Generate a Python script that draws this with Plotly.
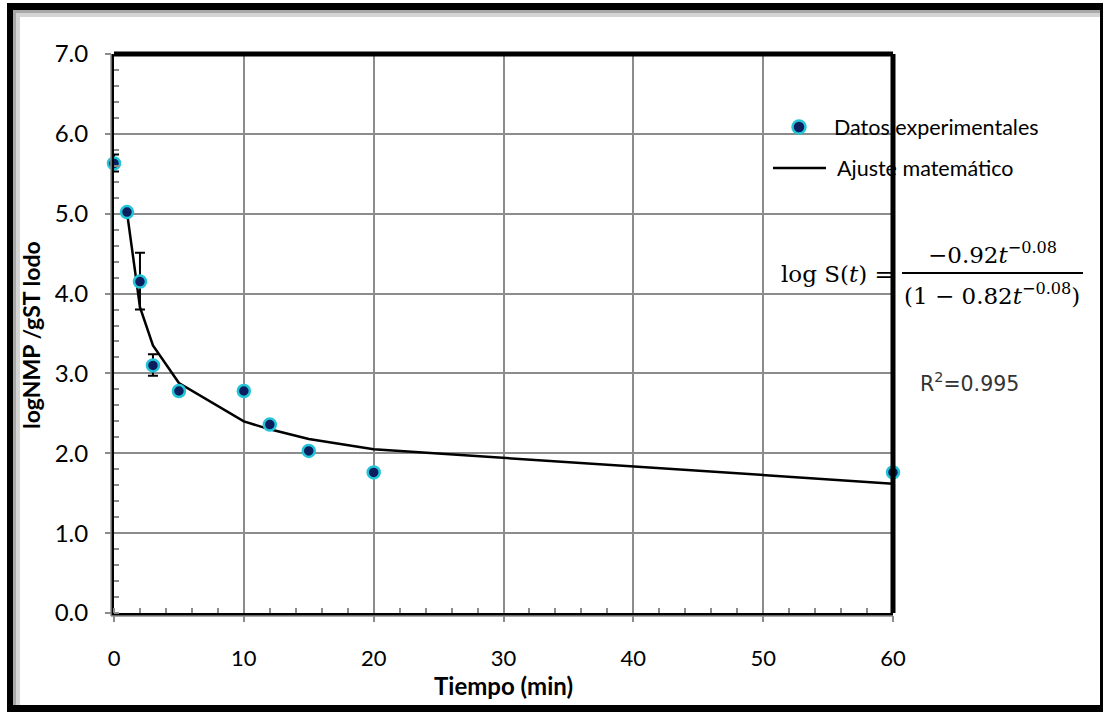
import plotly.graph_objects as go

# ---- data ----
t_exp = [0, 1, 2, 3, 5, 10, 12, 15, 20, 60]
log_exp = [5.63, 5.02, 4.15, 3.10, 2.78, 2.78, 2.36, 2.03, 1.76, 1.76]
err_plus = [0.11, 0, 0.36, 0.14, 0, 0, 0, 0, 0, 0]
err_minus = [0.10, 0, 0.35, 0.13, 0, 0, 0, 0, 0, 0]

t_fit = [1, 2, 3, 5, 10, 12, 15, 20, 60]
log_fit = [5.02, 3.83, 3.35, 2.88, 2.40, 2.30, 2.18, 2.05, 1.62]

x_ticks = [0, 10, 20, 30, 40, 50, 60]
y_ticks = [0, 1, 2, 3, 4, 5, 6, 7]
y_tick_labels = ["0.0", "1.0", "2.0", "3.0", "4.0", "5.0", "6.0", "7.0"]

# ---- layout geometry (px) ----
W, H = 1105, 712
L, R, T, B = 114, 893, 54, 613


def px(x):
    return (x - L) / (R - L)


def py(y):
    return (B - y) / (B - T)


NAVY = "#0b1f5e"
CYAN = "#22c5d8"
SANS = "Lato, 'Open Sans', sans-serif"

fig = go.Figure()

fig.add_trace(go.Scatter(
    x=t_fit, y=log_fit, mode="lines", name="Ajuste matemático",
    line=dict(color="black", width=2.5), showlegend=False, cliponaxis=False,
))
fig.add_trace(go.Scatter(
    x=t_exp, y=log_exp, mode="markers", name="Datos experimentales",
    marker=dict(color=NAVY, size=12, line=dict(color=CYAN, width=2.5)),
    error_y=dict(type="data", symmetric=False, array=err_plus, arrayminus=err_minus,
                 color="black", thickness=2, width=5),
    showlegend=False, cliponaxis=False,
))

shapes = []
# outer frame (shadow + black border)
for (x0, y0, x1, y1, c) in [
    (13, 10, 20, 705, "#d4d4d4"), (13, 10, 1100, 17, "#d4d4d4"),
    (13, 10, 16, 705, "#a8a8a8"), (13, 10, 1100, 13, "#a8a8a8"),
    (7, 3, 13, 712, "black"), (7, 3, 1103, 10, "black"),
    (1100, 3, 1103, 712, "black"), (7, 705, 1103, 712, "black"),
]:
    shapes.append(dict(type="rect", xref="paper", yref="paper",
                       x0=px(x0), x1=px(x1), y0=py(y0), y1=py(y1),
                       fillcolor=c, line=dict(width=0), layer="below"))
# grey outer companion lines of left and bottom axes
shapes.append(dict(type="line", xref="paper", yref="paper", x0=px(L - 3), x1=px(L - 3),
                   y0=py(B + 3), y1=py(T), line=dict(color="#8c8c8c", width=1.5)))
shapes.append(dict(type="line", xref="paper", yref="paper", x0=px(L - 3), x1=px(R),
                   y0=py(B + 3), y1=py(B + 3), line=dict(color="#8c8c8c", width=1.5)))
# thick top/right border
shapes.append(dict(type="line", xref="paper", yref="paper", x0=px(L), x1=px(R),
                   y0=1, y1=1, line=dict(color="black", width=5)))
shapes.append(dict(type="line", xref="paper", yref="paper", x0=1, x1=1,
                   y0=0, y1=1, line=dict(color="black", width=5)))
# legend glyphs
shapes.append(dict(type="circle", xref="paper", yref="paper",
                   x0=px(799 - 6.5), x1=px(799 + 6.5), y0=py(127 + 6.5), y1=py(127 - 6.5),
                   fillcolor=NAVY, line=dict(color=CYAN, width=2.5)))
shapes.append(dict(type="line", xref="paper", yref="paper", x0=px(773), x1=px(826),
                   y0=py(168), y1=py(168), line=dict(color="black", width=2.5)))
# fraction bar
shapes.append(dict(type="line", xref="paper", yref="paper", x0=px(902), x1=px(1083),
                   y0=py(273), y1=py(273), line=dict(color="black", width=2)))

annotations = [
    dict(text="<b>logNMP /gST lodo</b>", x=px(31), y=py(335), xanchor="center", yanchor="middle",
         textangle=-90, font=dict(family=SANS, size=23, color="black")),
    dict(text="Datos experimentales", x=px(832), y=py(127), xanchor="left", yanchor="middle",
         font=dict(family=SANS, size=21.5, color="black")),
    dict(text="Ajuste matemático", x=px(835), y=py(168), xanchor="left", yanchor="middle",
         font=dict(family=SANS, size=21.5, color="black")),
    dict(text="log S(<i>t</i>) =", x=px(779), y=py(274), xanchor="left", yanchor="middle",
         font=dict(family="DejaVu Serif", size=23, color="black")),
    dict(text="−0.92<i>t</i><sup>−0.08</sup>", x=px(992), y=py(253), xanchor="center",
         yanchor="middle", font=dict(family="DejaVu Serif", size=23, color="black")),
    dict(text="(1 − 0.82<i>t</i><sup>−0.08</sup>)", x=px(992), y=py(294), xanchor="center",
         yanchor="middle", font=dict(family="DejaVu Serif", size=23, color="black")),
    dict(text="R<sup>2</sup>=0.995", x=px(918), y=py(382), xanchor="left", yanchor="middle",
         font=dict(family="DejaVu Sans", size=20.5, color="#333333")),
]
for a in annotations:
    a.update(xref="paper", yref="paper", showarrow=False)

fig.update_layout(
    width=W, height=H,
    margin=dict(l=L, r=W - R, t=T, b=H - B, pad=0),
    paper_bgcolor="white", plot_bgcolor="white",
    shapes=shapes, annotations=annotations, showlegend=False,
    font=dict(family=SANS, size=16, color="black"),
)
fig.update_xaxes(
    range=[0, 60], tickvals=x_ticks, ticktext=[str(v) for v in x_ticks],
    showgrid=True, gridcolor="#8c8c8c", gridwidth=1.5,
    showline=True, linecolor="black", linewidth=3, mirror=False,
    ticks="outside", ticklen=6, tickcolor="#8c8c8c", tickwidth=1.5,
    ticklabelstandoff=18,
    minor=dict(dtick=2, ticks="inside", ticklen=5, tickcolor="#8c8c8c", tickwidth=1.5, showgrid=False),
    tickfont=dict(family=SANS, size=22, color="black"),
    title=dict(text="<b>Tiempo (min)</b>", font=dict(family=SANS, size=24, color="black"), standoff=8),
    zeroline=False,
)
fig.update_yaxes(
    range=[0, 7], tickvals=y_ticks, ticktext=y_tick_labels,
    showgrid=True, gridcolor="#8c8c8c", gridwidth=1.5,
    showline=True, linecolor="black", linewidth=3, mirror=False,
    ticks="outside", ticklen=6, tickcolor="#8c8c8c", tickwidth=1.5,
    ticklabelstandoff=12,
    minor=dict(dtick=0.2, ticks="inside", ticklen=5, tickcolor="#8c8c8c", tickwidth=1.5, showgrid=False),
    tickfont=dict(family=SANS, size=24, color="black"),
    zeroline=False,
)

fig.write_html("out.html", config={"displayModeBar": False},
               post_script="document.body.style.margin='0px';")
